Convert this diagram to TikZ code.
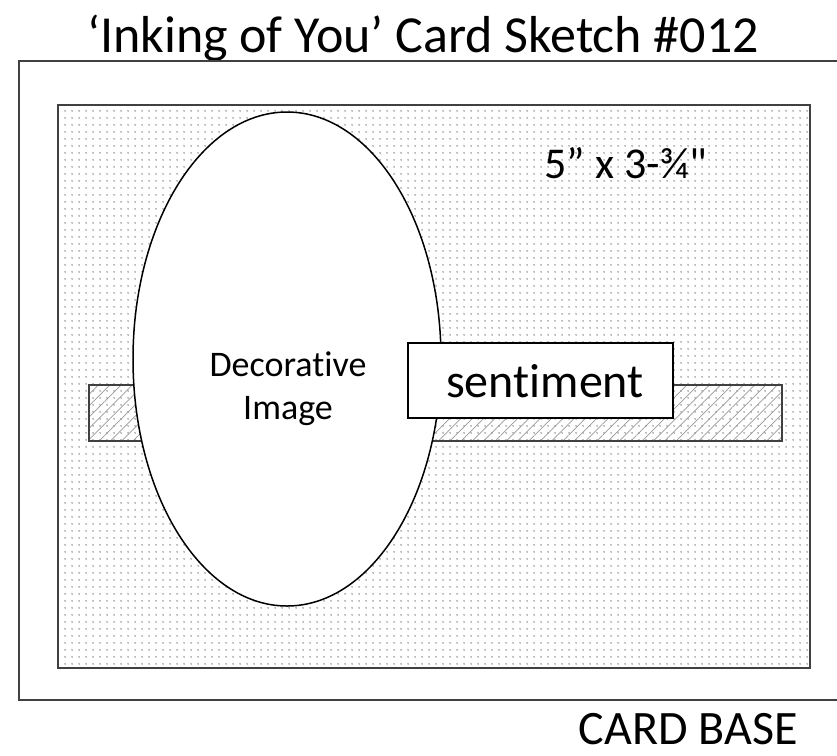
\documentclass[tikz,border=0pt]{standalone}
\usepackage{fontspec}
\setmainfont[Ligatures={TeX,NoCommon}]{Carlito}
\usepackage{tikz}
\usetikzlibrary{shapes.geometric}
\usetikzlibrary{patterns.meta}
\usetikzlibrary{positioning}

\tikzdeclarepattern{
	name=paperdots,
	type=uncolored,
	bounding box={(-3.25pt,-3.25pt) and (3.25pt,3.25pt)},
	tile size={(6.5pt,6.5pt)},
	code={\fill (0pt,0pt) circle (0.85pt);}
}

\begin{document}
\begin{tikzpicture}[x=1pt, y=-1pt,
		edge/.style={line width=1.8pt, draw=black!75},
		txt/.style={font=\fontsize{#1}{#1}\selectfont},
		oval/.style={ellipse, draw, line width=1.5pt, fill=white, inner sep=0pt},
		label box/.style={draw, line width=1.5pt, fill=white, inner sep=0pt}]
		        \useasboundingbox (0,0) rectangle (837,755);
		        \node[txt=52] (title) at (423,38) {‘Inking of You’ Card Sketch \#012};
		        \draw[edge] (837,61) -- (19,61) -- (19,700) -- (837,700);
		        \draw[edge, pattern={paperdots}, pattern color=black!50] (58,105) rectangle (810,668);
		        \draw[line width=1.3pt, draw=black!75, pattern={Lines[angle=45,distance=8pt,line width=0.7pt]}, pattern color=black!40] (89,385) rectangle (782,441);
		        \node[oval, minimum width=308pt, minimum height=494pt] (image) at (287,359) {};
		        \node[txt=36, align=center] (imagetext) at (288,389) {Decorative\\[7pt]Image};
		        \node[label box, minimum width=265pt, minimum height=75pt] (sentiment) at (540.5,380.5) {};
		        \node[txt=48] (sentimenttext) at (545,381) {sentiment};
		        \node[txt=44, anchor=base west] (size) at (541,178) {5” x 3-¾{\addfontfeature{Ligatures=TeXOff}"}};
		        \node[txt=48, anchor=base east] (base) at (801,744) {CARD BASE};
\end{tikzpicture}
\end{document}
